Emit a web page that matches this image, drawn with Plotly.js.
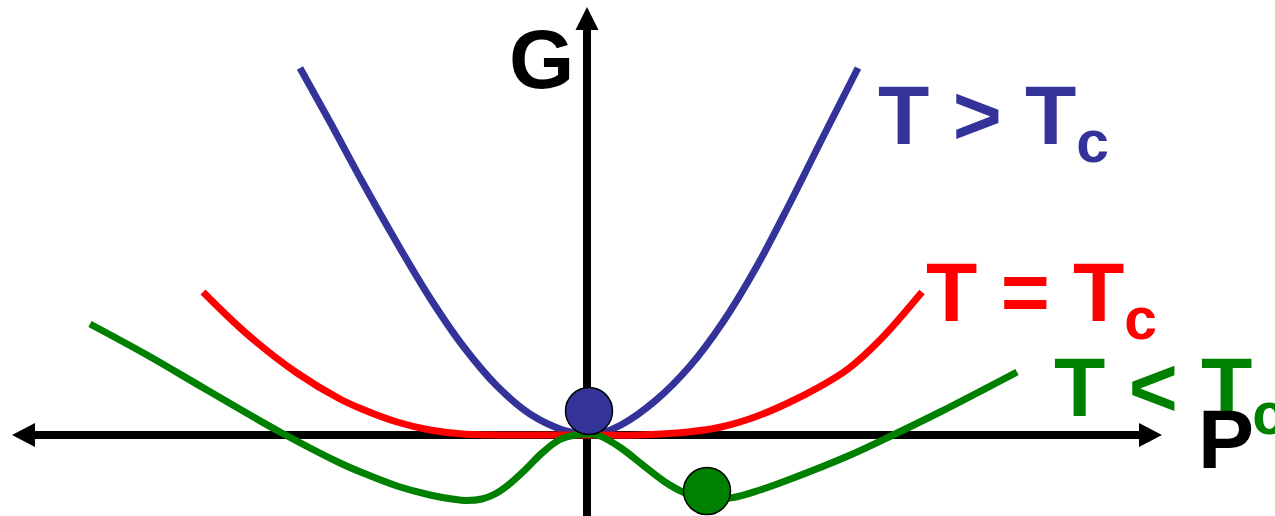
<!DOCTYPE html>
<html>
<head>
<meta charset="utf-8">
<script src="https://cdn.plot.ly/plotly-3.0.1.min.js"></script>
<style>html,body{margin:0;padding:0;background:#fff;}#chart{width:1275px;height:516px;}</style>
</head>
<body>
<div id="chart"></div>
<script>
// Free energy G versus order parameter P (axis origin at 0,0)
var blueP = [-287, -257, -224, -190, -157, -124, -90, -57, -24, 0, 14, 34, 68, 103, 136, 170, 203, 236, 271];
var blueG = [367, 313, 252, 192, 137, 89, 49, 21, 5, 0.5, 2, 10, 34, 69, 113, 169, 232, 298, 367];

var redP = [-384, -340, -290, -247, -224, -190, -157, -124, -67, 0, 50, 101, 134, 168, 201, 234, 261, 293, 335];
var redG = [143, 101, 62, 36, 25.5, 13, 5, 1, 0, 0, 0, 3, 8, 18, 32, 49, 66, 95, 143];

var greenP = [-497, -440, -380, -307, -247, -224, -190, -157, -135, -120, -105, -92, -80, -62, -45, -28, -12, 0, 13, 34, 57, 78, 98, 120, 146, 173, 201, 261, 306, 353, 430];
var greenG = [111, 80, 45, 3, -28, -38, -51, -60, -64, -65.5, -64, -59, -51, -35, -18, -5, 0, 1, -1, -13, -31, -47, -58, -64, -62.5, -55, -45, -21, 0, 23, 63];

var dotP = [2, 120];
var dotG = [24, -56];
var dotColors = ['#333399', '#008000'];

var labels = ['T &gt; T<sub>c</sub>', 'T = T<sub>c</sub>', 'T &lt; T<sub>c</sub>'];
var labelColors = ['#333399', '#ff0000', '#008000'];
var axisLabels = ['G', 'P'];

var FONT = 'Liberation Sans, Arial, Helvetica, sans-serif';

var traces = [
  {x: blueP, y: blueG, type: 'scatter', mode: 'lines', line: {color: '#333399', width: 7, shape: 'spline', smoothing: 1}, hoverinfo: 'skip'},
  {x: redP, y: redG, type: 'scatter', mode: 'lines', line: {color: '#ff0000', width: 7, shape: 'spline', smoothing: 1}, hoverinfo: 'skip'},
  {x: greenP, y: greenG, type: 'scatter', mode: 'lines', line: {color: '#008000', width: 7, shape: 'spline', smoothing: 1}, hoverinfo: 'skip'},
  {x: dotP, y: dotG, type: 'scatter', mode: 'markers', marker: {size: 47, color: dotColors, line: {color: '#000', width: 1.5}}, hoverinfo: 'skip', cliponaxis: false}
];

var shapes = [
  {type: 'line', xref: 'x', yref: 'y', x0: -555, x1: 555, y0: 0, y1: 0, line: {color: '#000', width: 8}, layer: 'below'},
  {type: 'path', xref: 'x', yref: 'y', path: 'M-575,0L-552,12L-552,-12Z', fillcolor: '#000', line: {width: 0}, layer: 'below'},
  {type: 'path', xref: 'x', yref: 'y', path: 'M575,0L552,12L552,-12Z', fillcolor: '#000', line: {width: 0}, layer: 'below'},
  {type: 'line', xref: 'x', yref: 'y', x0: 0, x1: 0, y0: -90, y1: 408, line: {color: '#000', width: 8}, layer: 'below'},
  {type: 'path', xref: 'x', yref: 'y', path: 'M0,428L-11.5,405L11.5,405Z', fillcolor: '#000', line: {width: 0}, layer: 'below'}
];

var labelPos = [[289, 369], [337, 192], [465, 97]];
var annotations = [];
for (var i = 0; i < labels.length; i++) {
  annotations.push({
    x: labelPos[i][0], y: labelPos[i][1], xref: 'x', yref: 'y', xanchor: 'left', yanchor: 'top',
    text: '<b>' + labels[i] + '</b>', showarrow: false,
    font: {family: FONT, size: 84, color: labelColors[i]}
  });
}
annotations.push({x: -80, y: 425, xref: 'x', yref: 'y', xanchor: 'left', yanchor: 'top', text: '<b>' + axisLabels[0] + '</b>', showarrow: false, font: {family: FONT, size: 84, color: '#000'}});
annotations.push({x: 609, y: 45, xref: 'x', yref: 'y', xanchor: 'left', yanchor: 'top', text: '<b>' + axisLabels[1] + '</b>', showarrow: false, font: {family: FONT, size: 84, color: '#000'}});

var layout = {
  width: 1275, height: 516,
  margin: {l: 0, r: 0, t: 0, b: 0, pad: 0},
  paper_bgcolor: '#fff', plot_bgcolor: '#fff',
  showlegend: false,
  xaxis: {range: [-587, 688], visible: false, showgrid: false, zeroline: false, fixedrange: true},
  yaxis: {range: [-81, 435], visible: false, showgrid: false, zeroline: false, fixedrange: true},
  shapes: shapes,
  annotations: annotations
};

Plotly.newPlot('chart', traces, layout, {staticPlot: true, displayModeBar: false});
</script>
</body>
</html>
